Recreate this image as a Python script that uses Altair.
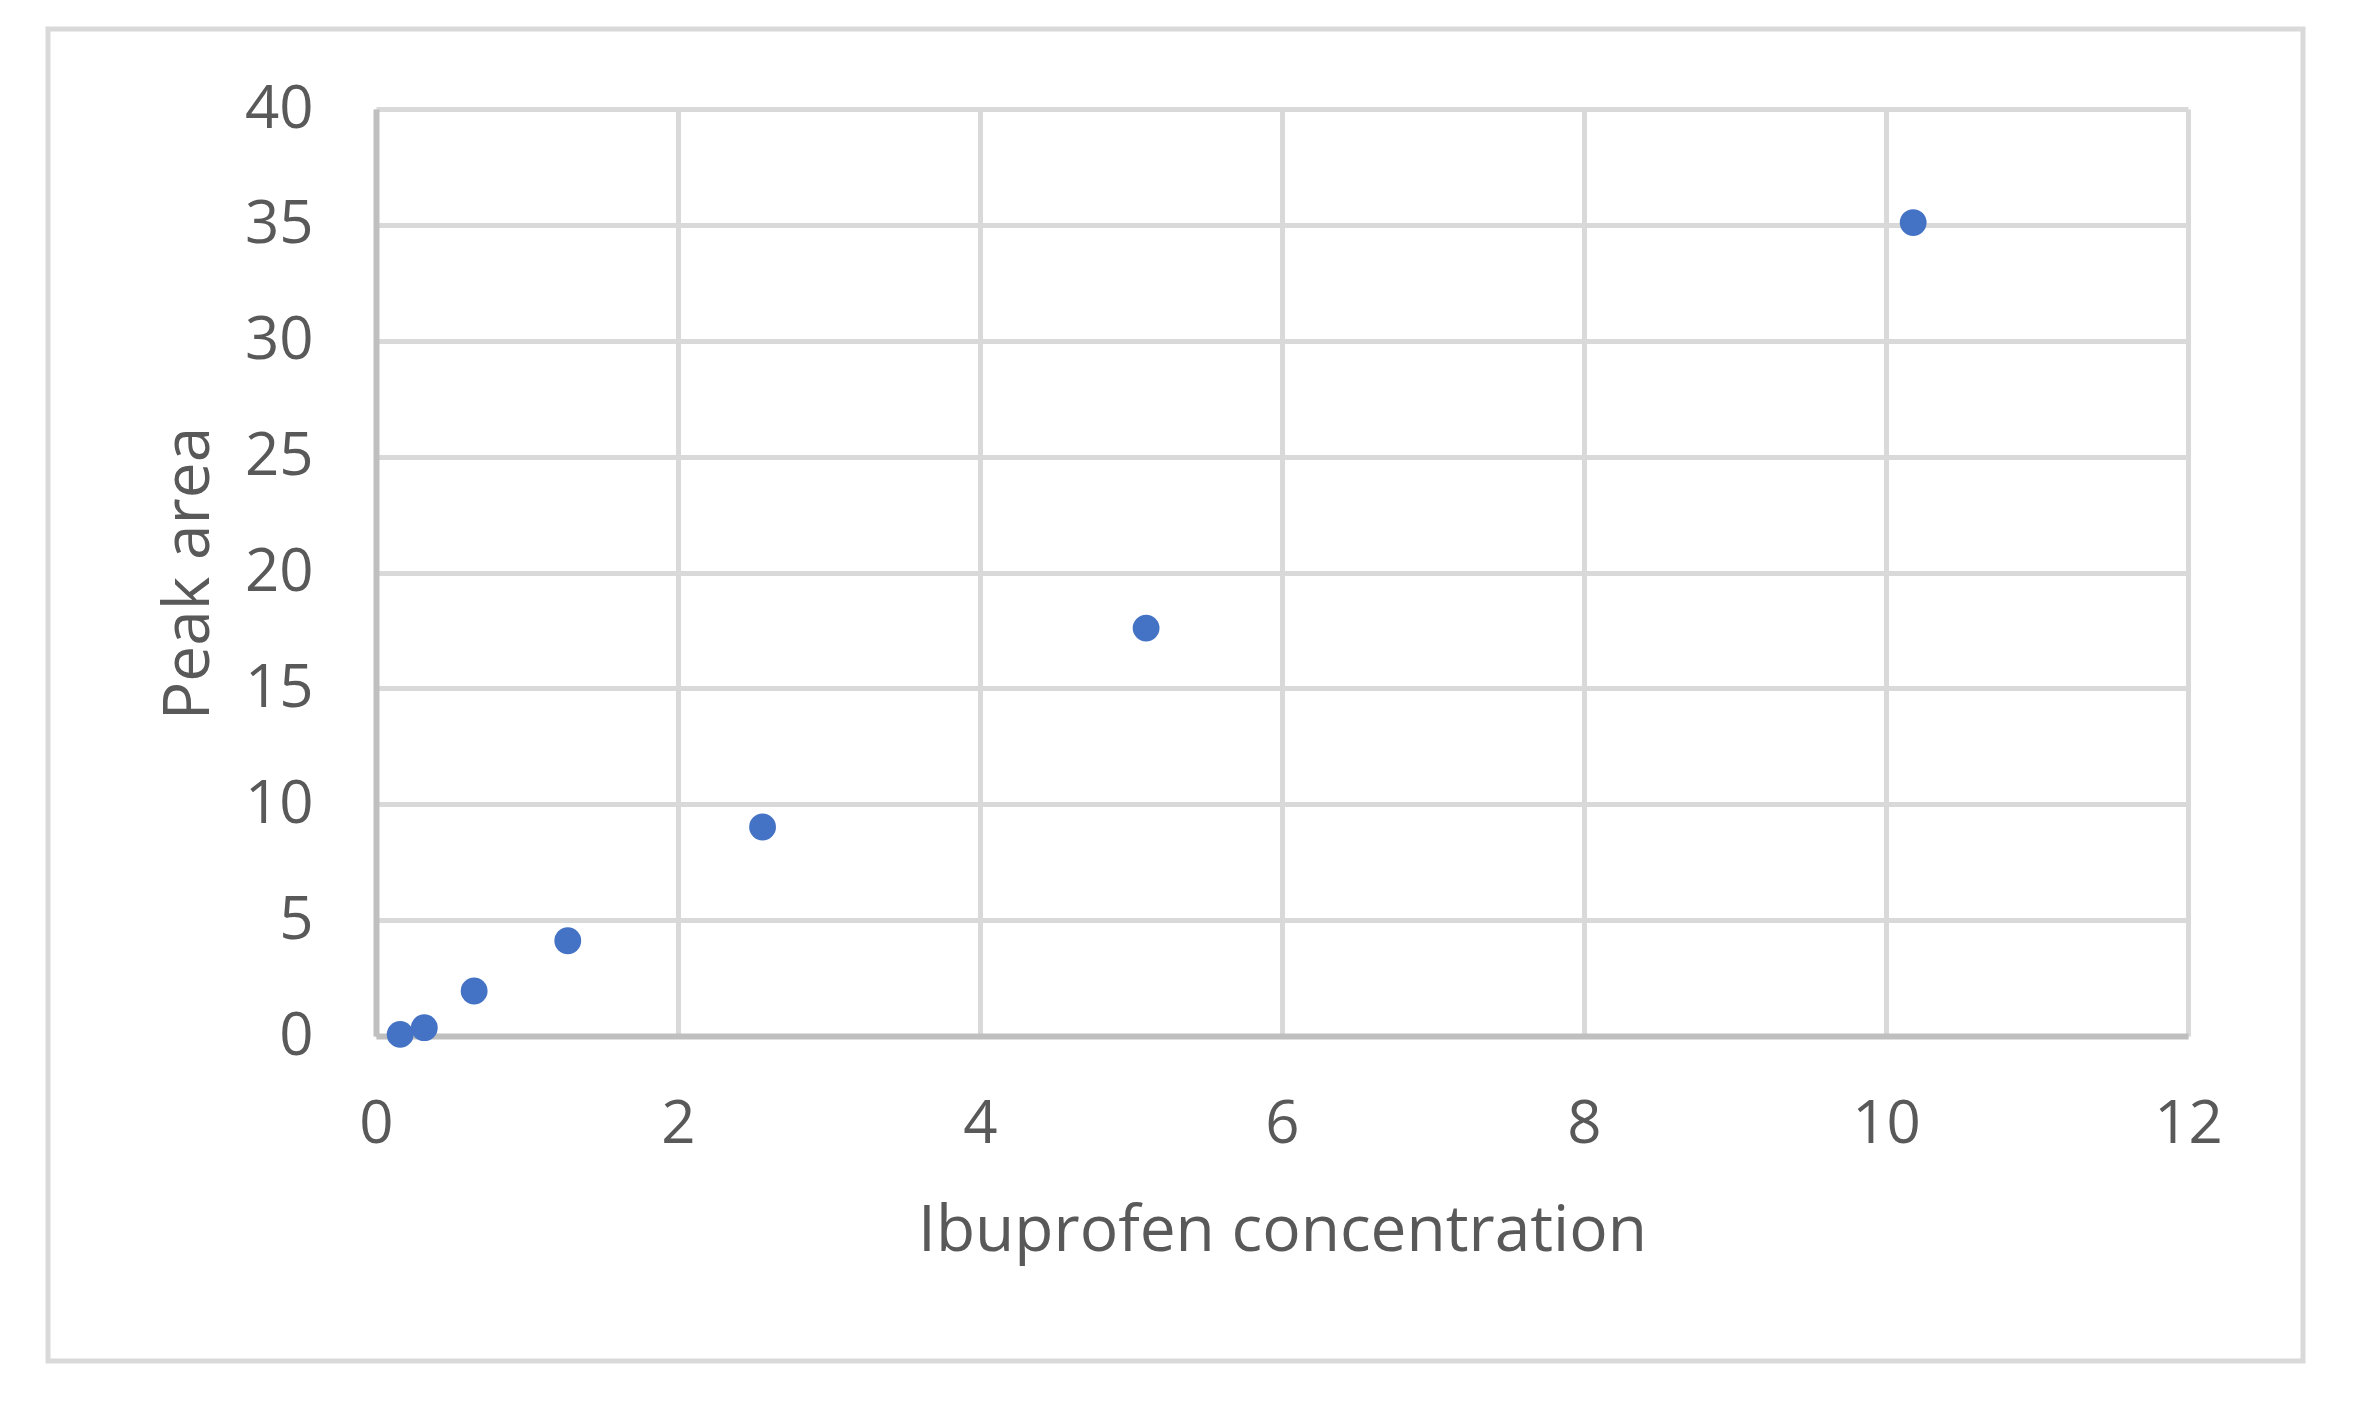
import altair as alt
import pandas as pd

# Data
concentration = [0.16, 0.32, 0.65, 1.27, 2.56, 5.10, 10.18]
peak_area = [0.07, 0.36, 1.94, 4.11, 9.02, 17.6, 35.1]
x_ticks = [0, 2, 4, 6, 8, 10, 12]
y_ticks = [0, 5, 10, 15, 20, 25, 30, 35, 40]

df = pd.DataFrame({"conc": concentration, "area": peak_area})

FONT = "Open Sans"
TXT = "#595959"

frame = alt.Chart(pd.DataFrame({"k": [0]})).mark_rect(
    fill="transparent", stroke="#D9D9D9", strokeWidth=5
).encode(
    x=alt.value(-328), x2=alt.value(1927), y=alt.value(-80), y2=alt.value(1252)
)

points = alt.Chart(df).mark_circle(size=720, color="#4472C4", opacity=1).encode(
    x=alt.X(
        "conc:Q",
        scale=alt.Scale(domain=[0, 12], nice=False),
        axis=alt.Axis(
            values=x_ticks,
            title="Ibuprofen concentration",
            labelPadding=59,
            titleBaseline="alphabetic",
            titleY=214,
        ),
    ),
    y=alt.Y(
        "area:Q",
        scale=alt.Scale(domain=[0, 40], nice=False),
        axis=alt.Axis(
            values=y_ticks,
            title="Peak area",
            labelPadding=63,
            titleBaseline="alphabetic",
            titleX=-168,
            titleY=464,
        ),
    ),
)

chart = (
    alt.layer(frame, points)
    .properties(
        width=1812,
        height=927,
        autosize=alt.AutoSizeParams(type="none"),
        padding={"left": 368, "top": 101, "right": 150, "bottom": 350},
        background="white",
    )
    .configure_view(stroke=None)
    .configure_axis(
        ticks=False,
        tickSize=0,
        domainColor="#BFBFBF",
        domainWidth=6,
        gridColor="#D9D9D9",
        gridWidth=5,
        labelFont=FONT,
        labelFontSize=60,
        labelColor=TXT,
        labelFlush=False,
        labelOverlap=False,
        titleFont=FONT,
        titleFontSize=64,
        titleFontWeight="normal",
        titleColor=TXT,
    )
)

chart.save("out.html", embed_options={"renderer": "svg", "actions": False})
